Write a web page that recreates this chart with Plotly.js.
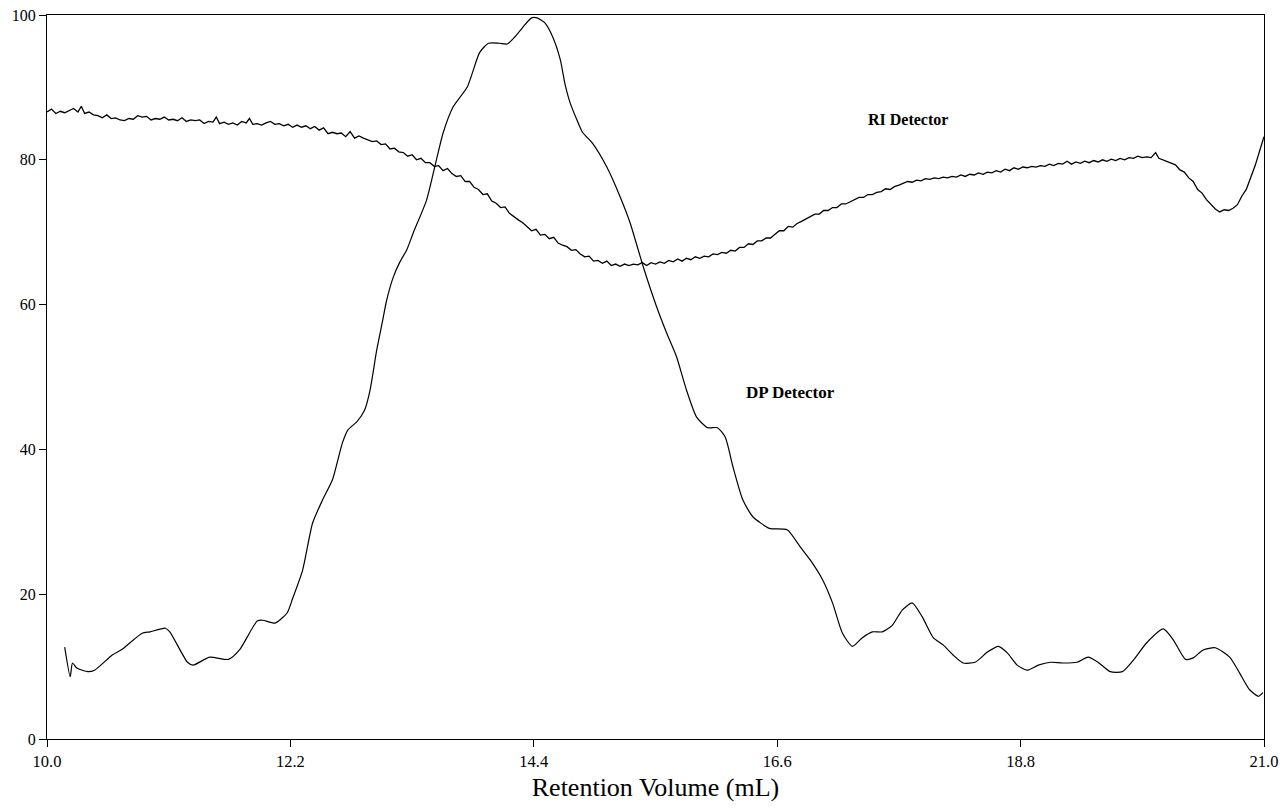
<!DOCTYPE html>
<html>
<head>
<meta charset="utf-8">
<script src="https://cdn.plot.ly/plotly-3.0.1.min.js"></script>
<style>html,body{margin:0;padding:0;background:#fff;}#chart{width:1286px;height:808px;}</style>
</head>
<body>
<div id="chart"></div>
<script>
// DP Detector (smooth trace)
const dpX = [10.16,10.21,10.23,10.27,10.37,10.43,10.59,10.68,10.86,10.93,11.07,11.11,11.27,11.32,11.47,11.64,11.74,11.90,11.95,12.06,12.17,12.22,12.31,12.40,12.49,12.58,12.67,12.72,12.80,12.87,12.92,12.98,13.03,13.07,13.13,13.19,13.25,13.31,13.43,13.52,13.58,13.67,13.80,13.91,13.99,14.09,14.16,14.23,14.30,14.38,14.43,14.50,14.57,14.64,14.68,14.73,14.79,14.84,14.93,15.06,15.18,15.27,15.39,15.51,15.60,15.69,15.78,15.87,15.97,16.06,16.13,16.20,16.29,16.38,16.53,16.69,16.81,16.90,17.01,17.10,17.19,17.28,17.37,17.46,17.55,17.64,17.73,17.82,17.91,18.01,18.10,18.19,18.28,18.39,18.50,18.60,18.68,18.77,18.86,18.96,19.07,19.18,19.31,19.41,19.50,19.61,19.72,19.82,19.94,20.09,20.18,20.29,20.36,20.45,20.56,20.69,20.78,20.87,20.95,20.99];
const dpY = [12.7,8.6,10.5,9.8,9.3,9.5,11.6,12.4,14.6,14.8,15.3,14.8,10.6,10.2,11.3,11.0,12.3,16.3,16.4,16.0,17.4,19.4,23.3,29.8,33.0,35.8,40.9,42.7,43.8,45.4,48.2,53.7,57.5,60.6,63.8,65.9,67.5,69.9,74.4,80.0,83.7,87.3,90.1,94.8,96.1,96.1,96.0,97.0,98.3,99.6,99.6,98.9,97.0,93.8,90.6,87.8,85.5,83.8,82.3,79.0,74.9,71.3,65.2,59.7,56.1,52.8,48.2,44.5,43.0,43.0,41.7,37.6,33.0,30.7,29.1,28.9,26.5,24.7,22.0,18.8,14.6,12.8,14.0,14.8,14.8,15.7,17.8,18.8,16.9,14.0,13.0,11.6,10.5,10.6,12.0,12.8,11.9,10.2,9.5,10.2,10.6,10.5,10.6,11.3,10.6,9.3,9.3,10.9,13.3,15.2,13.7,11.0,11.2,12.3,12.6,11.3,9.1,6.8,5.9,6.4];

// RI Detector (noisy trace)
const riX = [10.00,10.04,10.08,10.12,10.16,10.20,10.24,10.28,10.31,10.34,10.38,10.42,10.46,10.50,10.54,10.58,10.62,10.66,10.70,10.74,10.78,10.82,10.86,10.90,10.94,10.98,11.02,11.06,11.10,11.14,11.18,11.22,11.26,11.30,11.34,11.38,11.42,11.46,11.50,11.53,11.56,11.60,11.64,11.68,11.72,11.76,11.80,11.83,11.86,11.90,11.94,11.98,12.02,12.06,12.10,12.14,12.18,12.22,12.26,12.30,12.34,12.38,12.42,12.46,12.50,12.54,12.58,12.62,12.66,12.70,12.74,12.78,12.82,12.86,12.90,12.94,12.98,13.02,13.06,13.10,13.14,13.18,13.22,13.26,13.30,13.34,13.38,13.42,13.46,13.50,13.54,13.58,13.62,13.66,13.70,13.74,13.78,13.82,13.86,13.90,13.94,13.98,14.02,14.06,14.10,14.14,14.18,14.22,14.26,14.30,14.34,14.38,14.42,14.46,14.50,14.54,14.58,14.62,14.66,14.70,14.74,14.78,14.82,14.86,14.90,14.94,14.98,15.02,15.06,15.10,15.14,15.18,15.22,15.26,15.30,15.34,15.38,15.42,15.46,15.50,15.54,15.58,15.62,15.66,15.70,15.74,15.78,15.82,15.86,15.90,15.94,15.98,16.02,16.06,16.10,16.14,16.18,16.22,16.26,16.30,16.34,16.38,16.42,16.46,16.50,16.54,16.58,16.62,16.66,16.70,16.74,16.78,16.82,16.86,16.90,16.94,16.98,17.02,17.06,17.10,17.14,17.18,17.22,17.26,17.30,17.34,17.38,17.42,17.46,17.50,17.54,17.58,17.62,17.66,17.70,17.74,17.78,17.82,17.86,17.90,17.94,17.98,18.02,18.06,18.10,18.14,18.18,18.22,18.26,18.30,18.34,18.38,18.42,18.46,18.50,18.54,18.58,18.62,18.66,18.70,18.74,18.78,18.82,18.86,18.90,18.94,18.98,19.02,19.06,19.10,19.14,19.18,19.22,19.26,19.30,19.34,19.38,19.42,19.46,19.50,19.54,19.58,19.62,19.66,19.70,19.74,19.78,19.82,19.86,19.90,19.94,19.98,20.02,20.05,20.08,20.12,20.16,20.20,20.24,20.28,20.32,20.36,20.40,20.44,20.48,20.52,20.56,20.60,20.64,20.68,20.72,20.76,20.80,20.84,20.88,20.92,20.96,21.00];
const riY = [86.6,87.0,86.4,86.7,86.5,86.8,87.1,86.6,87.4,86.4,86.6,86.2,86.1,85.8,86.2,85.7,85.8,85.5,85.4,85.7,85.6,86.1,85.9,86.0,85.5,85.7,85.6,85.9,85.5,85.6,85.4,85.8,85.3,85.5,85.4,85.5,85.0,85.3,85.2,85.9,85.0,85.2,84.9,85.1,84.8,85.3,85.1,85.7,84.9,85.0,84.8,85.1,85.3,84.9,85.0,84.7,84.9,84.5,84.8,84.5,84.7,84.3,84.6,84.1,84.4,83.6,83.8,83.6,83.7,83.2,83.9,83.0,83.3,83.0,82.8,82.5,82.6,82.1,82.2,81.5,81.6,81.1,81.0,80.5,80.7,80.0,80.2,79.6,79.6,79.1,79.2,78.5,78.8,78.1,77.7,77.8,77.0,77.0,76.2,75.9,75.2,75.3,74.3,74.0,73.4,73.5,72.6,72.1,71.7,71.3,70.8,70.2,70.4,69.6,69.7,69.1,69.3,68.5,68.2,68.0,67.5,67.6,67.0,66.6,66.7,66.0,66.1,65.7,66.0,65.4,65.6,65.3,65.6,65.4,65.6,65.5,65.8,65.4,65.8,65.6,65.9,65.7,66.1,65.9,66.3,66.0,66.4,66.2,66.6,66.4,66.7,66.6,67.0,66.9,67.2,67.1,67.5,67.4,67.9,67.9,68.4,68.3,68.8,68.8,69.2,69.2,69.7,70.2,70.2,70.8,70.7,71.2,71.5,71.8,72.1,72.5,72.5,73.0,73.0,73.4,73.4,73.9,73.9,74.2,74.5,74.8,74.8,75.2,75.2,75.5,75.6,76.0,75.9,76.3,76.5,76.8,77.0,76.9,77.2,77.1,77.4,77.3,77.5,77.4,77.6,77.5,77.7,77.6,77.9,77.7,78.0,77.9,78.2,78.0,78.3,78.2,78.5,78.3,78.7,78.5,78.9,78.7,79.0,78.9,79.1,79.0,79.2,79.1,79.4,79.2,79.5,79.4,79.8,79.4,79.7,79.5,79.8,79.6,79.9,79.7,80.0,79.8,80.1,79.9,80.2,80.0,80.3,80.2,80.5,80.3,80.4,80.3,81.0,80.2,80.0,79.8,79.5,79.3,78.6,78.3,77.5,77.0,75.9,75.4,74.5,73.9,73.2,72.8,73.1,73.0,73.3,73.8,75.0,75.9,77.5,79.2,81.2,83.2];

const xTicks = [10.0,12.2,14.4,16.6,18.8,21.0];
const xTickText = ['10.0','12.2','14.4','16.6','18.8','21.0'];
const yTicks = [0,20,40,60,80,100];

const serif = 'Liberation Serif, Times New Roman, serif';

const traces = [
  {x: riX, y: riY, mode: 'lines', line: {color: '#000', width: 1.3}, name: 'RI Detector', hoverinfo: 'skip'},
  {x: dpX, y: dpY, mode: 'lines', line: {color: '#000', width: 1.2, shape: 'spline', smoothing: 0.6}, name: 'DP Detector', hoverinfo: 'skip'}
];

const layout = {
  width: 1286, height: 808,
  margin: {l: 47, r: 22, t: 15, b: 69},
  paper_bgcolor: '#fff', plot_bgcolor: '#fff',
  showlegend: false,
  font: {family: serif, color: '#000', size: 14},
  xaxis: {
    range: [10, 21], tickvals: xTicks, ticktext: xTickText,
    showgrid: false, zeroline: false, showline: true, linecolor: '#000', linewidth: 1, mirror: true,
    ticks: 'outside', ticklen: 7, tickcolor: '#000', tickwidth: 1,
    tickfont: {family: serif, size: 16.5, color: '#000'},
    title: {text: 'Retention Volume (mL)', font: {family: serif, size: 26, color: '#000'}, standoff: 8}
  },
  yaxis: {
    range: [0, 100], tickvals: yTicks,
    showgrid: false, zeroline: false, showline: true, linecolor: '#000', linewidth: 1, mirror: true,
    ticks: 'outside', ticklen: 7, tickcolor: '#000', tickwidth: 1,
    tickfont: {family: serif, size: 16, color: '#000'}
  },
  annotations: [
    {x: 17.78, y: 85.5, xref: 'x', yref: 'y', text: '<b>RI Detector</b>', showarrow: false, font: {family: serif, size: 16, color: '#000'}},
    {x: 16.72, y: 47.8, xref: 'x', yref: 'y', text: '<b>DP Detector</b>', showarrow: false, font: {family: serif, size: 17, color: '#000'}}
  ]
};

Plotly.newPlot('chart', traces, layout, {displayModeBar: false, staticPlot: true});
</script>
</body>
</html>
